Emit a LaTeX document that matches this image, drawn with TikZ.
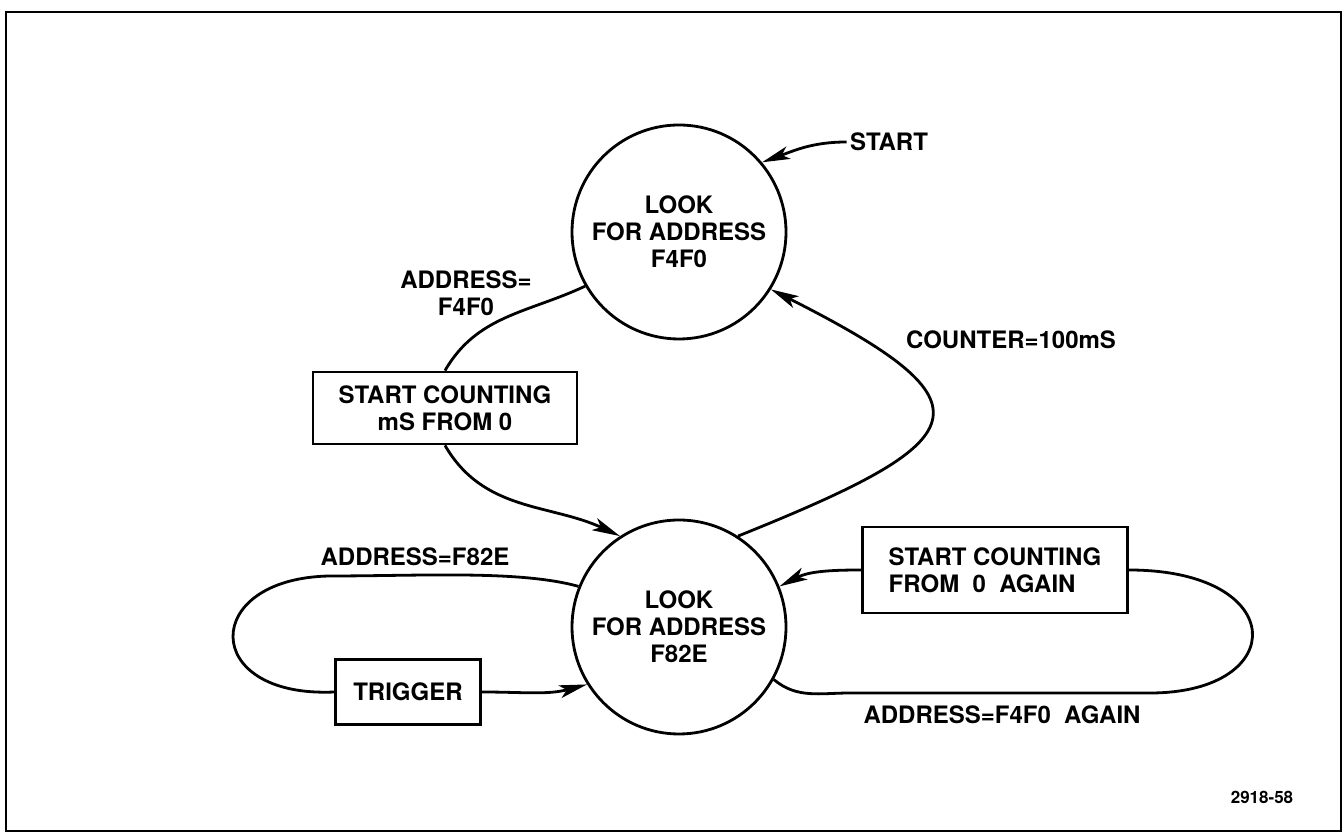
\documentclass[tikz,border=0pt]{standalone}
\usepackage{fontspec}
\setmainfont{TeX Gyre Heros}
\usetikzlibrary{arrows.meta}

\begin{document}
\begin{tikzpicture}[x=1pt,y=1pt,
  every node/.style={font=\fontsize{24}{27}\selectfont\bfseries},
  state/.style={draw,circle,line width=2.8pt,minimum size=214pt,inner sep=0pt,align=center},
  action/.style={draw,line width=2.8pt,inner sep=0pt,align=center},
  arc/.style={line width=2.8pt},
  tip/.style={arc,-{Stealth[length=28pt,width=13pt,inset=7pt]}}]
  \useasboundingbox (0,0) rectangle (1344,834);
  % frame
  \draw[line width=2.8pt] (6,822) rectangle (1341,3);

  % states
  \node[state] (look1) at (679,602) {LOOK\\FOR ADDRESS\\F4F0};
  \node[state] (look2) at (679,207) {LOOK\\FOR ADDRESS\\F82E};

  % actions
  \node[action,minimum width=264pt,minimum height=72pt] (count) at (445,426) {START COUNTING\\mS FROM 0};
  \node[action,minimum width=145pt,minimum height=65pt] (trig) at (408,142) {TRIGGER};
  \node[action,minimum width=265pt,minimum height=86pt,align=left] (again) at (995,264) {START COUNTING\\FROM~~0~~AGAIN};

  % labels
  \node (start) at (889,692) {START};
  \node[align=center] (hit1) at (466,541) {ADDRESS=\\F4F0};
  \node (timeout) at (1011,494) {COUNTER=100mS};
  \node (hit2) at (415,277) {ADDRESS=F82E};
  \node (hit3) at (1002,119) {ADDRESS=F4F0~~AGAIN};
  \node[font=\fontsize{17}{20}\selectfont\bfseries] (fig) at (1262,37) {2918-58};

  % transitions
  \draw[tip] (start.west) to[out=180,in=20] (look1.40);
  \draw[arc] (look1.210) to[out=205,in=60] (count.north);
  \draw[tip] (count.south) to[out=-60,in=155] (look2.123);
  \draw[tip] (look2.57) .. controls (977,394) and (1000,429) .. (look1.328);
  \draw[arc] (look2.158) .. controls (520,264) and (420,258) .. (330,258)
                         .. controls (200,256) and (200,136) .. (trig.west);
  \draw[tip] (trig.east) to[out=0,in=195] (look2.212);
  \draw[tip] (again.west) to[out=180,in=27] (look2.22);
  \draw[arc] (again.east) .. controls (1290,264) and (1290,141) .. (1150,141)
                          -- (850,141) to[out=180,in=-40] (look2.-29);
\end{tikzpicture}
\end{document}
